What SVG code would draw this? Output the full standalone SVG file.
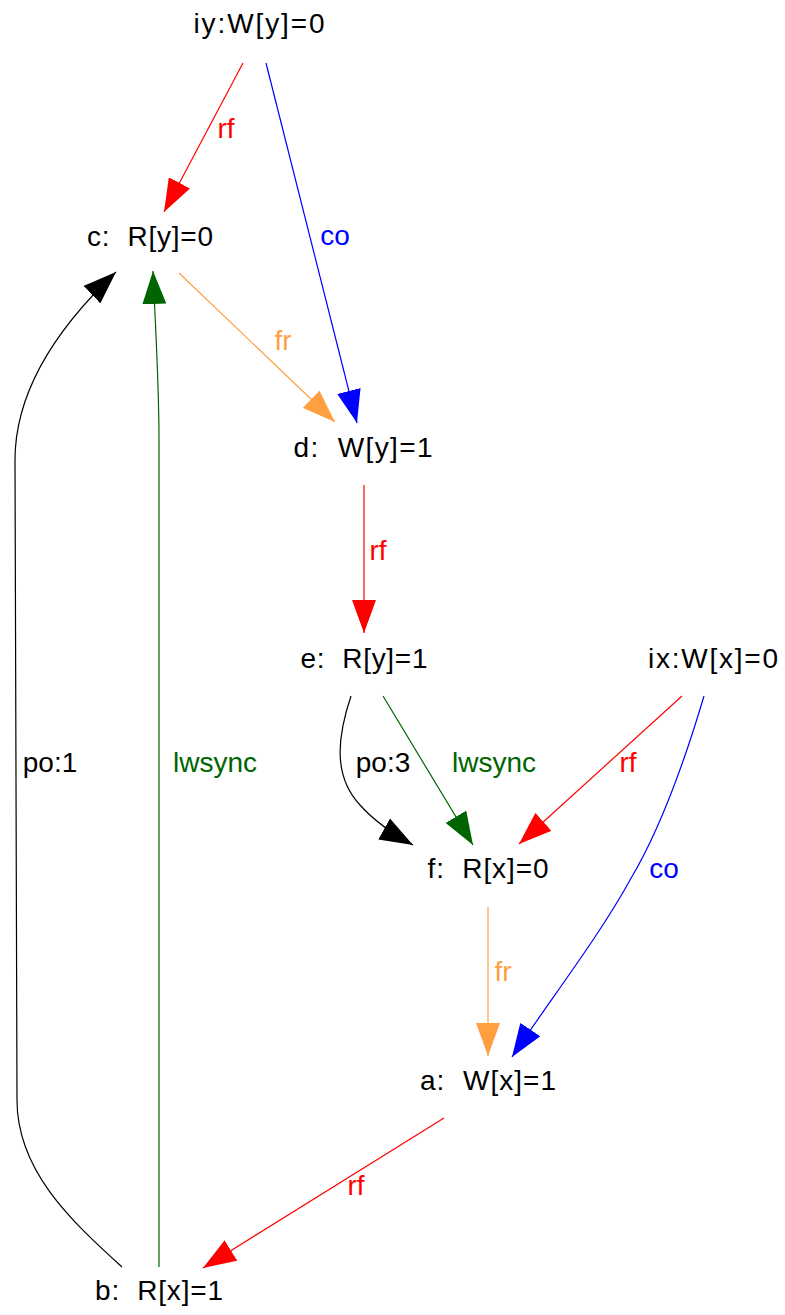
<svg xmlns="http://www.w3.org/2000/svg" width="785" height="1315" viewBox="0 0 785 1315">
<style>
text{font-family:"Liberation Sans","DejaVu Sans",sans-serif;font-size:28px;text-anchor:middle;white-space:pre}
.e{fill:none;stroke-width:1.2}
.red{stroke:#ff0000}.blue{stroke:#0000ff}.org{stroke:#ff9f40}.grn{stroke:#006400}.blk{stroke:#000000}
.tr{fill:#ff0000}.tb{fill:#0000ff}.to{fill:#ff9f40}.tg{fill:#006400}.tk{fill:#000000}
</style>
<defs>
<marker id="mr" viewBox="0 0 33 24" refX="33" refY="12" markerWidth="33" markerHeight="24" markerUnits="userSpaceOnUse" orient="auto"><path d="M0,0 L33,12 L0,24 z" fill="#ff0000"/></marker>
<marker id="mb" viewBox="0 0 33 24" refX="33" refY="12" markerWidth="33" markerHeight="24" markerUnits="userSpaceOnUse" orient="auto"><path d="M0,0 L33,12 L0,24 z" fill="#0000ff"/></marker>
<marker id="mo" viewBox="0 0 33 24" refX="33" refY="12" markerWidth="33" markerHeight="24" markerUnits="userSpaceOnUse" orient="auto"><path d="M0,0 L33,12 L0,24 z" fill="#ff9f40"/></marker>
<marker id="mg" viewBox="0 0 33 24" refX="33" refY="12" markerWidth="33" markerHeight="24" markerUnits="userSpaceOnUse" orient="auto"><path d="M0,0 L33,12 L0,24 z" fill="#006400"/></marker>
<marker id="mk" viewBox="0 0 33 24" refX="33" refY="12" markerWidth="33" markerHeight="24" markerUnits="userSpaceOnUse" orient="auto"><path d="M0,0 L33,12 L0,24 z" fill="#000000"/></marker>
</defs>
<g id="edges">
<path class="e red" d="M243,63 L164,212" marker-end="url(#mr)"/>
<text class="tr" x="226" y="138">rf</text>
<path class="e blue" d="M266,63 L357,423" marker-end="url(#mb)"/>
<text class="tb" x="335" y="245">co</text>
<path class="e org" d="M179,273 L335,422" marker-end="url(#mo)"/>
<text class="to" x="283" y="350">fr</text>
<path class="e red" d="M364,485 L364,633" marker-end="url(#mr)"/>
<text class="tr" x="378" y="560">rf</text>
<path class="e blk" d="M351,696 C338,735 332,775 360,805 C375,822 395,835 413,845" marker-end="url(#mk)"/>
<text class="tk" x="383" y="772">po:3</text>
<path class="e grn" d="M383,696 L473,845" marker-end="url(#mg)"/>
<text class="tg" x="494" y="772">lwsync</text>
<path class="e red" d="M682,696 L519,844" marker-end="url(#mr)"/>
<text class="tr" x="628" y="772">rf</text>
<path class="e blue" d="M704,696 C685,760 660,830 630,880 C600,935 550,1000 512,1057" marker-end="url(#mb)"/>
<text class="tb" x="664" y="878">co</text>
<path class="e org" d="M488,907 L488,1056" marker-end="url(#mo)"/>
<text class="to" x="503" y="981">fr</text>
<path class="e red" d="M444,1118 L203,1268" marker-end="url(#mr)"/>
<text class="tr" x="356" y="1195">rf</text>
<path class="e blk" d="M122,1267 C70,1220 17,1170 17,1100 L15,460 C15,390 60,325 116,272" marker-end="url(#mk)"/>
<text class="tk" x="50" y="772">po:1</text>
<path class="e grn" d="M159,1267 L159,440 C159,380 155,320 153,271" marker-end="url(#mg)"/>
<text class="tg" x="215" y="772">lwsync</text>
</g>
<g id="iy"><text x="259" y="33" textLength="131" lengthAdjust="spacing">iy:W[y]=0</text></g>
<g id="c"><text x="150" y="246" textLength="126" lengthAdjust="spacing">c:  R[y]=0</text></g>
<g id="d"><text x="363" y="457" textLength="139" lengthAdjust="spacing">d:  W[y]=1</text></g>
<g id="e"><text x="364" y="668" textLength="127" lengthAdjust="spacing">e:  R[y]=1</text></g>
<g id="ix"><text x="713" y="668" textLength="130" lengthAdjust="spacing">ix:W[x]=0</text></g>
<g id="f"><text x="488" y="878" textLength="121" lengthAdjust="spacing">f:  R[x]=0</text></g>
<g id="a"><text x="488" y="1090" textLength="136" lengthAdjust="spacing">a:  W[x]=1</text></g>
<g id="b"><text x="159" y="1300" textLength="128" lengthAdjust="spacing">b:  R[x]=1</text></g>
</svg>
